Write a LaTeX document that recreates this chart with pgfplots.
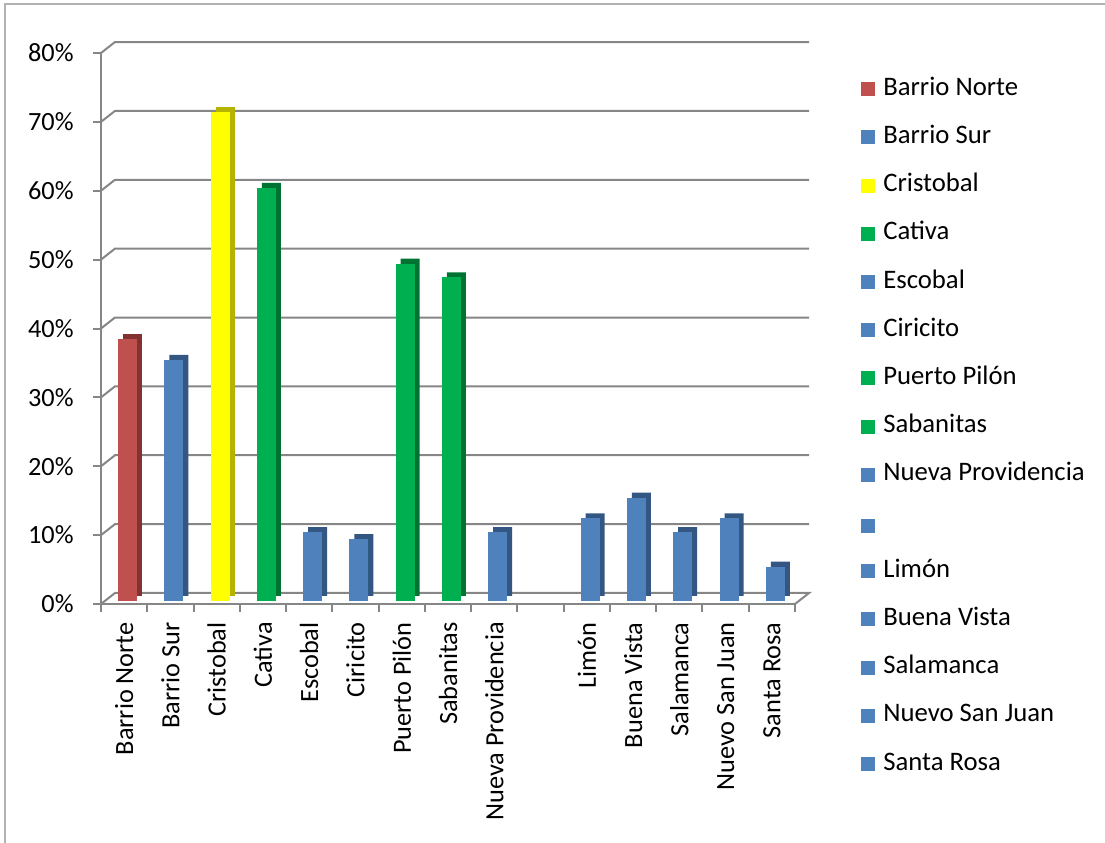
\documentclass[border=0pt]{standalone}
\usepackage{pgfplots}
\pgfplotsset{compat=1.18}
\usepackage{fontspec}
\setmainfont{Carlito}
\definecolor{gridc}{RGB}{134,134,134}
\definecolor{cRed}{RGB}{192,80,77}
\definecolor{dRed}{RGB}{130,50,48}
\definecolor{cBlue}{RGB}{79,129,189}
\definecolor{dBlue}{RGB}{52,86,130}
\definecolor{cYel}{RGB}{255,255,0}
\definecolor{dYel}{RGB}{180,180,0}
\definecolor{cGrn}{RGB}{0,176,80}
\definecolor{dGrn}{RGB}{0,115,50}
\pgfplotsset{set layers}
\begin{document}
\begin{tikzpicture}
\draw[gray!60, line width=1bp] (2.5bp,-10bp) -- (2.5bp,419.5bp) -- (570bp,419.5bp);
\begin{axis}[
  at={(50.5bp,119.5bp)}, anchor=south west,
  scale only axis, width=347bp, height=275.5bp,
  xmin=-0.5, xmax=14.5, ymin=0, ymax=80,
  ybar, bar width=9.5bp, bar shift=1.7bp,
  axis lines*=left,
  axis line style={draw=gridc, line width=1bp},
  tick align=outside, major tick length=4bp,
  tick style={draw=gridc, line width=1bp},
  ytick={0,10,...,80},
  yticklabels={0\%,10\%,20\%,30\%,40\%,50\%,60\%,70\%,80\%},
  yticklabel style={inner sep=0pt, xshift=-9.5bp},
  xtick={0,...,14},
  xtick style={draw=none},
  xticklabels={Barrio Norte, Barrio Sur, Cristobal, Cativa, Escobal, Ciricito, Puerto Pilón, Sabanitas, Nueva Providencia, {}, Limón, Buena Vista, Salamanca, Nuevo San Juan, Santa Rosa},
  xticklabel style={rotate=90, anchor=east, inner xsep=0pt, inner ysep=0pt, xshift=-5bp},
  extra x ticks={-0.5,0.5,...,14.5},
  extra x tick labels={},
  extra x tick style={xtick style={draw=gridc, line width=1bp}},
  tick label style={font=\fontsize{13.2}{15}\selectfont, text=black},
  clip=false,
  legend image code/.code={\fill[#1, yshift=-1.5bp] (0bp,-3.5bp) rectangle (7bp,3.5bp);},
  legend style={at={(1.095,0.955)}, anchor=north west, draw=none, fill=none,
    font=\fontsize{13.4}{15}\selectfont, row sep=13.1bp, inner sep=0pt,
    nodes={inner sep=0pt, text height=8.5bp, text depth=2.5bp},
    /tikz/every odd column/.append style={column sep=4bp}},
  legend cell align=left,
]
\begin{pgfonlayer}{axis grid}
\pgfplotsinvokeforeach{10,20,30,40,50,60,70,80}{
  \draw[gridc, line width=1bp] (axis cs:-0.5,#1) -- ++(7bp,5.5bp) -- ([shift={(7bp,5.5bp)}]axis cs:14.5,#1);
}
\draw[gridc, line width=1bp] (axis cs:-0.5,0) -- ++(7bp,5.5bp) -- ([shift={(7bp,5.5bp)}]axis cs:14.5,0) -- (axis cs:14.5,0);
\end{pgfonlayer}
% side/top faces (pseudo 3D)
\addplot[forget plot, fill=dRed, draw=none, bar shift=4.2bp, yshift=4bp] coordinates {(0,38)};
\addplot[forget plot, fill=dBlue, draw=none, bar shift=4.2bp, yshift=4bp] coordinates {(1,35) (4,10) (5,9) (8,10) (10,12) (11,15) (12,10) (13,12) (14,5)};
\addplot[forget plot, fill=dYel, draw=none, bar shift=4.2bp, yshift=4bp] coordinates {(2,71)};
\addplot[forget plot, fill=dGrn, draw=none, bar shift=4.2bp, yshift=4bp] coordinates {(3,60) (6,49) (7,47)};
% front faces
\addplot[fill=cRed, draw=none, yshift=1.5bp] coordinates {(0,38)}; \addlegendentry{Barrio Norte}
\addplot[fill=cBlue, draw=none, yshift=1.5bp] coordinates {(1,35)}; \addlegendentry{Barrio Sur}
\addplot[fill=cYel, draw=none, yshift=1.5bp] coordinates {(2,71)}; \addlegendentry{Cristobal}
\addplot[fill=cGrn, draw=none, yshift=1.5bp] coordinates {(3,60)}; \addlegendentry{Cativa}
\addplot[fill=cBlue, draw=none, yshift=1.5bp] coordinates {(4,10)}; \addlegendentry{Escobal}
\addplot[fill=cBlue, draw=none, yshift=1.5bp] coordinates {(5,9)}; \addlegendentry{Ciricito}
\addplot[fill=cGrn, draw=none, yshift=1.5bp] coordinates {(6,49)}; \addlegendentry{Puerto Pilón}
\addplot[fill=cGrn, draw=none, yshift=1.5bp] coordinates {(7,47)}; \addlegendentry{Sabanitas}
\addplot[fill=cBlue, draw=none, yshift=1.5bp] coordinates {(8,10)}; \addlegendentry{Nueva Providencia}
\addlegendimage{fill=cBlue, draw=none} \addlegendentry{}
\addplot[fill=cBlue, draw=none, yshift=1.5bp] coordinates {(10,12)}; \addlegendentry{Limón}
\addplot[fill=cBlue, draw=none, yshift=1.5bp] coordinates {(11,15)}; \addlegendentry{Buena Vista}
\addplot[fill=cBlue, draw=none, yshift=1.5bp] coordinates {(12,10)}; \addlegendentry{Salamanca}
\addplot[fill=cBlue, draw=none, yshift=1.5bp] coordinates {(13,12)}; \addlegendentry{Nuevo San Juan}
\addplot[fill=cBlue, draw=none, yshift=1.5bp] coordinates {(14,5)}; \addlegendentry{Santa Rosa}
\end{axis}
\pgfresetboundingbox
\useasboundingbox (0,0) rectangle (552.5bp,421.5bp);
\end{tikzpicture}
\end{document}
